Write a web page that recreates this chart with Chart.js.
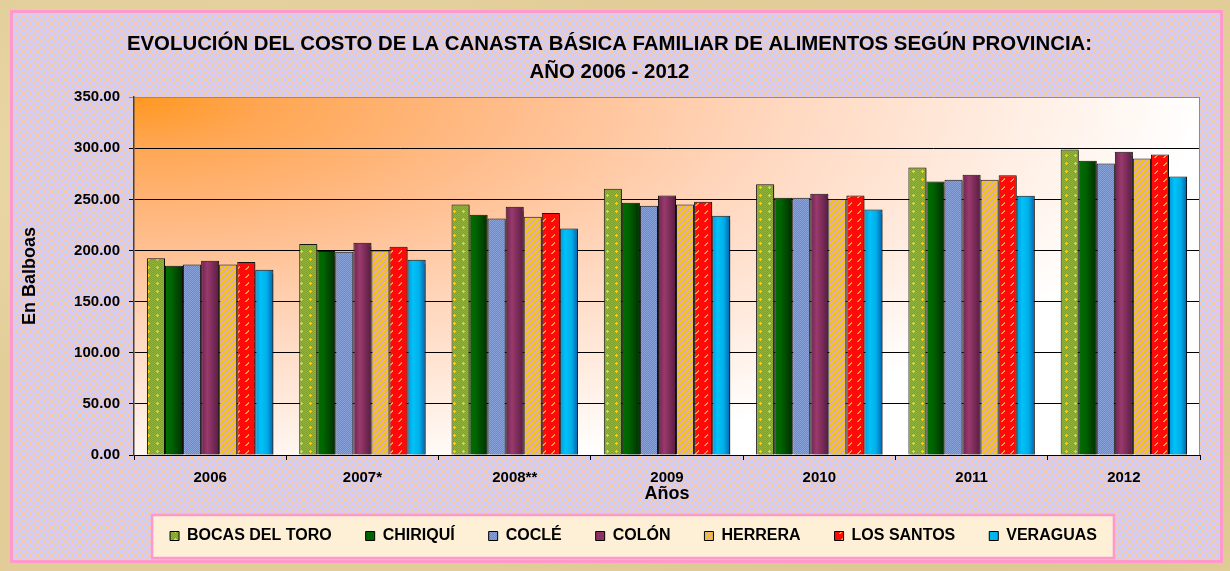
<!DOCTYPE html>
<html lang="es">
<head>
<meta charset="utf-8">
<title>Evolución del costo de la canasta básica familiar de alimentos</title>
<script src="https://cdn.jsdelivr.net/npm/chart.js@4.4.1/dist/chart.umd.min.js"></script>
<style>
    html, body { margin: 0; padding: 0; }
    body {
        width: 1230px; height: 571px; overflow: hidden; position: relative;
        background-color: #e2cd98;
        background-image:
            radial-gradient(ellipse at 20% 30%, rgba(240,225,180,0.7), transparent 40%),
            radial-gradient(ellipse at 75% 70%, rgba(205,180,120,0.5), transparent 45%);
        font-family: "Liberation Sans", Arial, sans-serif;
    }
    .frame {
        position: absolute; left: 10px; top: 10px; width: 1213px; height: 553px;
        box-sizing: border-box; border: 3px solid #ff99cc;
        background-color: #cfcdfb;
        background-image:
            radial-gradient(circle, #fcc99c 1.3px, transparent 1.8px),
            radial-gradient(circle, #fcc99c 1.3px, transparent 1.8px);
        background-size: 7px 7px;
        background-position: 0 0, 3.5px 3.5px;
    }
    #wrap { position: absolute; left: 0; top: 0; width: 1230px; height: 571px; }
</style>
</head>
<body>
<div class="frame"></div>
<div id="wrap"><canvas id="canastaChart" width="1230" height="571"></canvas></div>

<script>
// ---- data (B/. por provincia) ----
const years = ['2006', '2007*', '2008**', '2009', '2010', '2011', '2012'];
const provincias = ['BOCAS DEL TORO', 'CHIRIQUÍ', 'COCLÉ', 'COLÓN', 'HERRERA', 'LOS SANTOS', 'VERAGUAS'];
const bocasDelToro = [192.3, 206.3, 245.1, 260.4, 264.9, 281.2, 298.8];
const chiriqui     = [185.1, 199.4, 235.0, 246.7, 251.6, 267.5, 287.7];
const cocle        = [186.4, 198.8, 231.4, 243.7, 251.6, 269.1, 285.1];
const colon        = [190.0, 207.6, 242.8, 253.9, 255.5, 274.0, 296.5];
const herrera      = [186.4, 200.1, 233.0, 245.1, 250.3, 269.1, 290.0];
const losSantos    = [188.7, 203.7, 236.6, 247.6, 253.9, 273.7, 293.9];
const veraguas     = [181.2, 191.0, 221.6, 234.0, 240.2, 253.5, 272.4];
const yTicks = [0, 50, 100, 150, 200, 250, 300, 350];

const CAT_PCT = 0.83;
const FONT = '"Liberation Sans", Arial, sans-serif';

// small tiles used as fill patterns
function makeTile(w, h, paint) {
    const c = document.createElement('canvas');
    c.width = w; c.height = h;
    const g = c.getContext('2d');
    paint(g, w, h);
    return document.createElement('canvas').getContext('2d').createPattern(c, 'repeat');
}

function px(g, color, pts) {
    g.fillStyle = color;
    pts.forEach(p => g.fillRect(p[0], p[1], 1, 1));
}

const bocasFill = makeTile(9, 8, function (g, w, h) {
    g.fillStyle = '#93b33a';
    g.fillRect(0, 0, w, h);
    for (let y = 0; y < h; y++)
        for (let x = 0; x < w; x++)
            if ((x + y) % 2 === 0) px(g, '#7fa02c', [[x, y]]);
    px(g, '#f4d21c', [[4, 2], [3, 3], [4, 3], [5, 3], [4, 4]]);
});

const cocleFill = makeTile(2, 2, function (g) {
    px(g, '#8aa3da', [[0, 0], [1, 1]]);
    px(g, '#6d88c4', [[1, 0], [0, 1]]);
});

const herreraFill = makeTile(6, 6, function (g, w, h) {
    for (let y = 0; y < h; y++)
        for (let x = 0; x < w; x++)
            px(g, ((x + y) % 6) < 3 ? '#f2c21e' : '#d8a6dc', [[x, y]]);
});

const santosFill = makeTile(9, 8, function (g, w, h) {
    g.fillStyle = '#ff0a0a';
    g.fillRect(0, 0, w, h);
    px(g, '#ff9a3a', [[2, 5], [3, 4], [4, 3], [5, 2], [3, 5], [4, 4], [5, 3]]);
});

// horizontal shading of a bar, found through the x scale
function barGradient(stops) {
    return function (c) {
        const chart = c.chart;
        const xs = chart.scales && chart.scales.x;
        if (!xs || !xs.width || c.dataIndex === undefined) return stops[1][1];
        const cw = xs.width / years.length;
        const bw = cw * CAT_PCT / provincias.length;
        const left = xs.getPixelForValue(c.dataIndex) - cw * CAT_PCT / 2 + c.datasetIndex * bw;
        if (!isFinite(left) || !isFinite(bw)) return stops[1][1];
        const g = chart.ctx.createLinearGradient(left, 0, left + bw, 0);
        stops.forEach(s => g.addColorStop(s[0], s[1]));
        return g;
    };
}

const chiriquiFill = barGradient([[0, '#007000'], [0.35, '#006400'], [1, '#002e00']]);
const colonFill = barGradient([[0, '#6a2450'], [0.35, '#9a3a6c'], [1, '#571c42']]);
const veraguasFill = barGradient([[0, '#0098dc'], [0.3, '#00c2f8'], [0.65, '#00aee8'], [1, '#005fae']]);

const seriesValues = [bocasDelToro, chiriqui, cocle, colon, herrera, losSantos, veraguas];
const seriesFills = [bocasFill, chiriquiFill, cocleFill, colonFill, herreraFill, santosFill, veraguasFill];
const legendFills = [bocasFill, '#006400', cocleFill, '#8e3264', herreraFill, santosFill, '#00b4f0'];

// plot area shading + legend panel
const backdrop = {
    id: 'backdrop',
    beforeDraw(chart) {
        const { ctx, chartArea: a } = chart;
        ctx.save();
        ctx.beginPath();
        ctx.rect(a.left, a.top, a.width, a.height);
        ctx.clip();
        const rx = a.width * 1.0, ry = a.height * 1.1;
        ctx.translate(a.left, a.top);
        ctx.scale(1, ry / rx);
        const g = ctx.createRadialGradient(0, 0, 0, 0, 0, rx);
        g.addColorStop(0, '#ff981f');
        g.addColorStop(0.12, '#ffa652');
        g.addColorStop(0.35, '#ffbc8a');
        g.addColorStop(0.6, '#ffd7be');
        g.addColorStop(0.85, '#fff0e6');
        g.addColorStop(1, '#ffffff');
        ctx.fillStyle = g;
        ctx.fillRect(0, 0, a.width, a.height * rx / ry);
        ctx.restore();

        const hb = chart.legend && chart.legend.legendHitBoxes;
        if (hb && hb.length) {
            const last = hb[hb.length - 1];
            const x0 = hb[0].left - 18;
            const x1 = last.left + last.width + 17;
            const cy = hb[0].top + hb[0].height / 2;
            ctx.save();
            ctx.fillStyle = '#fdf0d6';
            ctx.strokeStyle = '#ff99cc';
            ctx.lineWidth = 2.5;
            ctx.fillRect(x0, cy - 21, x1 - x0, 43);
            ctx.strokeRect(x0, cy - 21, x1 - x0, 43);
            ctx.restore();
        }
    },
    beforeDatasetsDraw(chart) {
        const { ctx, chartArea: a } = chart;
        ctx.save();
        ctx.strokeStyle = '#8c8c8c';
        ctx.lineWidth = 1;
        ctx.beginPath();
        ctx.moveTo(a.right - 0.5, a.top);
        ctx.lineTo(a.right - 0.5, a.bottom);
        ctx.stroke();
        ctx.restore();
        ctx.save();
        ctx.shadowColor = 'rgba(0,0,0,0.45)';
        ctx.shadowOffsetX = 2;
        ctx.shadowOffsetY = 1;
        ctx.shadowBlur = 1;
    },
    afterDatasetsDraw(chart) {
        chart.ctx.restore();
    },
    afterLayout(chart) {
        // legend sits a little right of centre and higher in the original
        const lg = chart.legend;
        lg.left += 24; lg.right += 24;
        lg.top -= 11; lg.bottom -= 11;
    }
};

function initCanastaChart() {
    const ctx = document.getElementById('canastaChart');
    if (!ctx) return;

    new Chart(ctx, {
        type: 'bar',
        data: {
            labels: years,
            datasets: provincias.map((name, i) => ({
                label: name,
                data: seriesValues[i],
                backgroundColor: seriesFills[i],
                borderColor: '#151515',
                borderWidth: 1,
                borderSkipped: 'bottom',
                categoryPercentage: CAT_PCT,
                barPercentage: 1
            }))
        },
        options: {
            responsive: false,
            animation: false,
            devicePixelRatio: 1,
            layout: { padding: { left: 19, right: 30, top: 30, bottom: 6 } },
            plugins: {
                title: {
                    display: true,
                    text: ['EVOLUCIÓN DEL COSTO DE LA CANASTA BÁSICA FAMILIAR DE ALIMENTOS SEGÚN PROVINCIA:', 'AÑO 2006 - 2012'],
                    color: '#000',
                    font: { family: FONT, size: 20.4, weight: 'bold', lineHeight: 1.4 },
                    padding: { top: 0, bottom: 10 }
                },
                legend: {
                    position: 'bottom',
                    labels: {
                        color: '#000',
                        font: { family: FONT, size: 16, weight: 'bold' },
                        boxWidth: 9,
                        boxHeight: 9,
                        padding: 34,
                        generateLabels: function (chart) {
                            const items = Chart.defaults.plugins.legend.labels.generateLabels(chart);
                            items.forEach((it, i) => {
                                it.fillStyle = legendFills[i];
                                it.strokeStyle = '#000';
                                it.lineWidth = 1;
                            });
                            return items;
                        }
                    }
                },
                tooltip: { enabled: false }
            },
            scales: {
                x: {
                    grid: {
                        display: true,
                        drawOnChartArea: false,
                        drawTicks: true,
                        tickLength: 5,
                        color: '#000'
                    },
                    border: { color: '#000', width: 1 },
                    ticks: {
                        color: '#000',
                        font: { family: FONT, size: 15, weight: 'bold' },
                        padding: 9,
                        maxRotation: 0
                    },
                    title: {
                        display: true,
                        text: 'Años',
                        color: '#000',
                        font: { family: FONT, size: 18, weight: 'bold' },
                        padding: 0
                    },
                    afterFit: function (scale) { scale.height = 50; }
                },
                y: {
                    min: 0,
                    max: 350,
                    afterBuildTicks: function (scale) {
                        scale.ticks = yTicks.map(v => ({ value: v }));
                    },
                    grid: {
                        color: c => (c.tick && c.tick.value === 350) ? '#8c8c8c' : '#000',
                        lineWidth: 1,
                        tickLength: 5
                    },
                    border: { color: '#404040', width: 1.5 },
                    ticks: {
                        color: '#000',
                        font: { family: FONT, size: 15, weight: 'bold' },
                        padding: 9,
                        callback: function (value) {
                            return Number(value).toFixed(2);
                        }
                    },
                    title: {
                        display: true,
                        text: 'En Balboas',
                        color: '#000',
                        font: { family: FONT, size: 18, weight: 'bold' },
                        padding: 0
                    },
                    afterFit: function (scale) { scale.width = 115; }
                }
            }
        },
        plugins: [backdrop]
    });
}

document.addEventListener('DOMContentLoaded', initCanastaChart);
</script>
</body>
</html>
